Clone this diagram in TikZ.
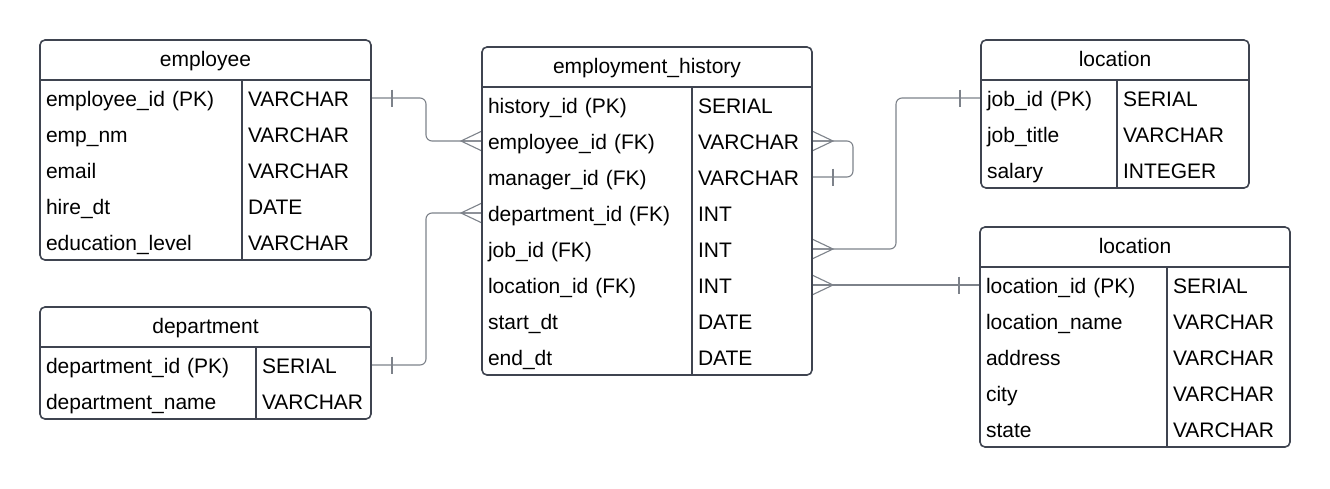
\documentclass[tikz,border=0pt]{standalone}
\usepackage{fontspec}
\setmainfont{Liberation Sans}
\usetikzlibrary{positioning,fit}
\definecolor{framegray}{HTML}{3F4450}
\definecolor{linkgray}{HTML}{7D828A}

\begin{document}
\begin{tikzpicture}[x=1pt,y=-1pt,
	every node/.style={inner sep=0pt,outer sep=0pt,font=\fontsize{21}{24}\selectfont},
	head/.style={minimum height=40pt,text height=13pt,text depth=0pt},
	cell/.style={minimum height=36pt,text height=16pt,text depth=0pt,inner xsep=6pt,align=left},
	tablebox/.style={draw=framegray,line width=1.6pt,rounded corners=5pt,inner sep=0pt},
	tablerule/.style={draw=framegray,line width=1.6pt},
	link/.style={draw=linkgray,line width=1.1pt,rounded corners=6pt},
	crowfoot/.pic={\draw[linkgray,line width=1.1pt] (0,-10) -- (-21,0) -- (0,10) (-21,0) -- (0,0);},
	onebar/.pic={\draw[linkgray,line width=1.1pt] (21,-8.5) -- (21,8.5);},
	]
		\useasboundingbox (0,0) rectangle (1330,488);
		
		% employee
		\node (emp) [head,minimum width=331pt] at (205.5,60) {employee};
		\node (emp-n1) [cell,text width=190pt,below right=0pt of emp.south west] {employee\_id (PK)};
		\node (emp-t1) [cell,text width=117pt,right=0pt of emp-n1] {VARCHAR};
		\node (emp-n2) [cell,text width=190pt,below=0pt of emp-n1] {emp\_nm};
		\node (emp-t2) [cell,text width=117pt,right=0pt of emp-n2] {VARCHAR};
		\node (emp-n3) [cell,text width=190pt,below=0pt of emp-n2] {email};
		\node (emp-t3) [cell,text width=117pt,right=0pt of emp-n3] {VARCHAR};
		\node (emp-n4) [cell,text width=190pt,below=0pt of emp-n3] {hire\_dt};
		\node (emp-t4) [cell,text width=117pt,right=0pt of emp-n4] {DATE};
		\node (emp-n5) [cell,text width=190pt,below=0pt of emp-n4] {education\_level};
		\node (emp-t5) [cell,text width=117pt,right=0pt of emp-n5] {VARCHAR};
		
		% department
		\node (dep) [head,minimum width=331pt] at (205.5,327) {department};
		\node (dep-n1) [cell,text width=204pt,below right=0pt of dep.south west] {department\_id (PK)};
		\node (dep-t1) [cell,text width=103pt,right=0pt of dep-n1] {SERIAL};
		\node (dep-n2) [cell,text width=204pt,below=0pt of dep-n1] {department\_name};
		\node (dep-t2) [cell,text width=103pt,right=0pt of dep-n2] {VARCHAR};
		
		% employment_history
		\node (eh) [head,minimum width=330pt] at (647,67) {employment\_history};
		\node (eh-n1) [cell,text width=198pt,below right=0pt of eh.south west] {history\_id (PK)};
		\node (eh-t1) [cell,text width=108pt,right=0pt of eh-n1] {SERIAL};
		\node (eh-n2) [cell,text width=198pt,below=0pt of eh-n1] {employee\_id (FK)};
		\node (eh-t2) [cell,text width=108pt,right=0pt of eh-n2] {VARCHAR};
		\node (eh-n3) [cell,text width=198pt,below=0pt of eh-n2] {manager\_id (FK)};
		\node (eh-t3) [cell,text width=108pt,right=0pt of eh-n3] {VARCHAR};
		\node (eh-n4) [cell,text width=198pt,below=0pt of eh-n3] {department\_id (FK)};
		\node (eh-t4) [cell,text width=108pt,right=0pt of eh-n4] {INT};
		\node (eh-n5) [cell,text width=198pt,below=0pt of eh-n4] {job\_id (FK)};
		\node (eh-t5) [cell,text width=108pt,right=0pt of eh-n5] {INT};
		\node (eh-n6) [cell,text width=198pt,below=0pt of eh-n5] {location\_id (FK)};
		\node (eh-t6) [cell,text width=108pt,right=0pt of eh-n6] {INT};
		\node (eh-n7) [cell,text width=198pt,below=0pt of eh-n6] {start\_dt};
		\node (eh-t7) [cell,text width=108pt,right=0pt of eh-n7] {DATE};
		\node (eh-n8) [cell,text width=198pt,below=0pt of eh-n7] {end\_dt};
		\node (eh-t8) [cell,text width=108pt,right=0pt of eh-n8] {DATE};
		
		% job table (printed as location)
		\node (job) [head,minimum width=268pt] at (1115,60) {location};
		\node (job-n1) [cell,text width=124pt,below right=0pt of job.south west] {job\_id (PK)};
		\node (job-t1) [cell,text width=120pt,right=0pt of job-n1] {SERIAL};
		\node (job-n2) [cell,text width=124pt,below=0pt of job-n1] {job\_title};
		\node (job-t2) [cell,text width=120pt,right=0pt of job-n2] {VARCHAR};
		\node (job-n3) [cell,text width=124pt,below=0pt of job-n2] {salary};
		\node (job-t3) [cell,text width=120pt,right=0pt of job-n3] {INTEGER};
		
		% location
		\node (loc) [head,minimum width=310pt] at (1135,247) {location};
		\node (loc-n1) [cell,text width=175pt,below right=0pt of loc.south west] {location\_id (PK)};
		\node (loc-t1) [cell,text width=111pt,right=0pt of loc-n1] {SERIAL};
		\node (loc-n2) [cell,text width=175pt,below=0pt of loc-n1] {location\_name};
		\node (loc-t2) [cell,text width=111pt,right=0pt of loc-n2] {VARCHAR};
		\node (loc-n3) [cell,text width=175pt,below=0pt of loc-n2] {address};
		\node (loc-t3) [cell,text width=111pt,right=0pt of loc-n3] {VARCHAR};
		\node (loc-n4) [cell,text width=175pt,below=0pt of loc-n3] {city};
		\node (loc-t4) [cell,text width=111pt,right=0pt of loc-n4] {VARCHAR};
		\node (loc-n5) [cell,text width=175pt,below=0pt of loc-n4] {state};
		\node (loc-t5) [cell,text width=111pt,right=0pt of loc-n5] {VARCHAR};
		
		% connect the tables
		\draw[link] (emp-t1.east) -- ++(55,0) |- (eh-n2.west);
		\pic at (emp-t1.east) {onebar};
		\pic at (eh-n2.west) {crowfoot};
		\draw[link] (dep-t1.east) -- ++(55,0) |- (eh-n4.west);
		\pic at (dep-t1.east) {onebar};
		\pic at (eh-n4.west) {crowfoot};
		\draw[link] (eh-t2.east) -- ++(41,0) |- (eh-t3.east);
		\pic[xscale=-1] at (eh-t2.east) {crowfoot};
		\pic at (eh-t3.east) {onebar};
		\draw[link] (eh-t5.east) -- ++(84,0) |- (job-n1.west);
		\pic[xscale=-1] at (eh-t5.east) {crowfoot};
		\pic[xscale=-1] at (job-n1.west) {onebar};
		\draw[link] (eh-t6.east) -- (loc-n1.west);
		\pic[xscale=-1] at (eh-t6.east) {crowfoot};
		\pic[xscale=-1] at (loc-n1.west) {onebar};
		
		% frames and rules
		\node (emp-box) [tablebox,fit=(emp)(emp-n5)(emp-t5)] {};
		\draw[tablerule] (emp.south west) -- (emp.south east);
		\draw[tablerule] (emp-t1.north west) -- (emp-t5.south west);
		\node (dep-box) [tablebox,fit=(dep)(dep-n2)(dep-t2)] {};
		\draw[tablerule] (dep.south west) -- (dep.south east);
		\draw[tablerule] (dep-t1.north west) -- (dep-t2.south west);
		\node (eh-box) [tablebox,fit=(eh)(eh-n8)(eh-t8)] {};
		\draw[tablerule] (eh.south west) -- (eh.south east);
		\draw[tablerule] (eh-t1.north west) -- (eh-t8.south west);
		\node (job-box) [tablebox,fit=(job)(job-n3)(job-t3)] {};
		\draw[tablerule] (job.south west) -- (job.south east);
		\draw[tablerule] (job-t1.north west) -- (job-t3.south west);
		\node (loc-box) [tablebox,fit=(loc)(loc-n5)(loc-t5)] {};
		\draw[tablerule] (loc.south west) -- (loc.south east);
		\draw[tablerule] (loc-t1.north west) -- (loc-t5.south west);
		
\end{tikzpicture}
\end{document}
